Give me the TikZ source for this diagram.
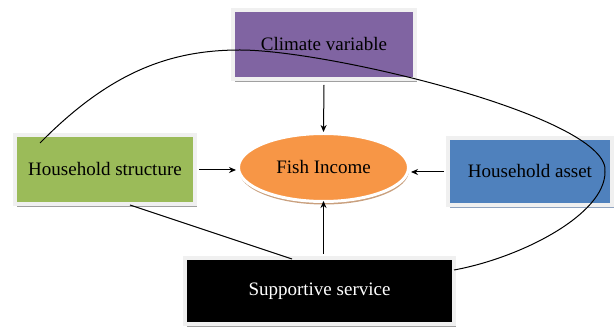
\documentclass[tikz,border=0pt]{standalone}
\usepackage{fontspec}
\setmainfont{Liberation Serif}
\usetikzlibrary{shapes.geometric,shadows,arrows.meta}
\definecolor{cpurple}{HTML}{8064A2}
\definecolor{cgreen}{HTML}{9BBB59}
\definecolor{cblue}{HTML}{4F81BD}
\definecolor{corange}{HTML}{F79646}
\definecolor{cborder}{HTML}{F0F0F0}
\definecolor{cshadow}{HTML}{A0A0A0}
\definecolor{cbshadow}{HTML}{8FA3BF}
\definecolor{ceshadow}{HTML}{C9A07E}
\begin{document}
\begin{tikzpicture}[x=1pt,y=-1pt,
  every node/.style={font=\fontsize{19}{22}\selectfont},
  factor/.style={rectangle,draw=cborder,line width=4pt,inner sep=0pt,
    drop shadow={shadow xshift=1.5pt,shadow yshift=-3pt,fill=cshadow,opacity=1}},
  arr/.style={-{Stealth[length=7pt,width=6pt]},line width=1pt},
  link/.style={line width=1pt}]
\useasboundingbox (0,0) rectangle (614,328);
\node[factor,fill=cpurple,minimum width=182pt,minimum height=69pt] (climate) at (324,44.5) {Climate variable};
\node[factor,fill=cgreen,minimum width=180pt,minimum height=69pt] (hs) at (105,169.5) {Household structure};
\node[factor,fill=cblue,minimum width=164pt,minimum height=67pt,
  drop shadow={shadow xshift=1.5pt,shadow yshift=-3pt,fill=cbshadow,opacity=1}] (ha) at (530,171.5) {Household asset};
\node[factor,fill=black,text=white,minimum width=269pt,minimum height=66pt] (ss) at (319.5,291) {Supportive service};
\node[ellipse,fill=corange,draw=white,line width=3pt,inner sep=0pt,
  minimum width=170pt,minimum height=68pt,
  drop shadow={shadow xshift=0.5pt,shadow yshift=-3pt,fill=ceshadow,opacity=1}] (fish) at (323.5,167.5) {Fish Income};
% arrows
\draw[arr] ([yshift=-4pt]climate.south) -- (fish.north);
\draw[arr] ([xshift=2pt]hs.east |- 0,170) -- ([xshift=-1pt]fish.west |- 0,170);
\draw[arr] ([xshift=-2pt]ha.west |- 0,172) -- ([xshift=1pt]fish.east |- 0,172);
\draw[arr] ([yshift=2pt]ss.north -| fish.south) -- ([yshift=2pt]fish.south);
% links
\coordinate (cs) at (40,143);
\coordinate (ctop) at (240,50);
\coordinate (cright) at (605,172);
\coordinate (cend) at (454,270);
\draw[link] (cs) .. controls (110,72) and (170,50) .. (ctop)
  .. controls (330,50) and (612,118) .. (cright)
  .. controls (605,215) and (520,258) .. (cend);
\coordinate (l1) at (130,205);
\coordinate (l2) at (292,259);
\draw[link] (l1) -- (l2);
\end{tikzpicture}
\end{document}
